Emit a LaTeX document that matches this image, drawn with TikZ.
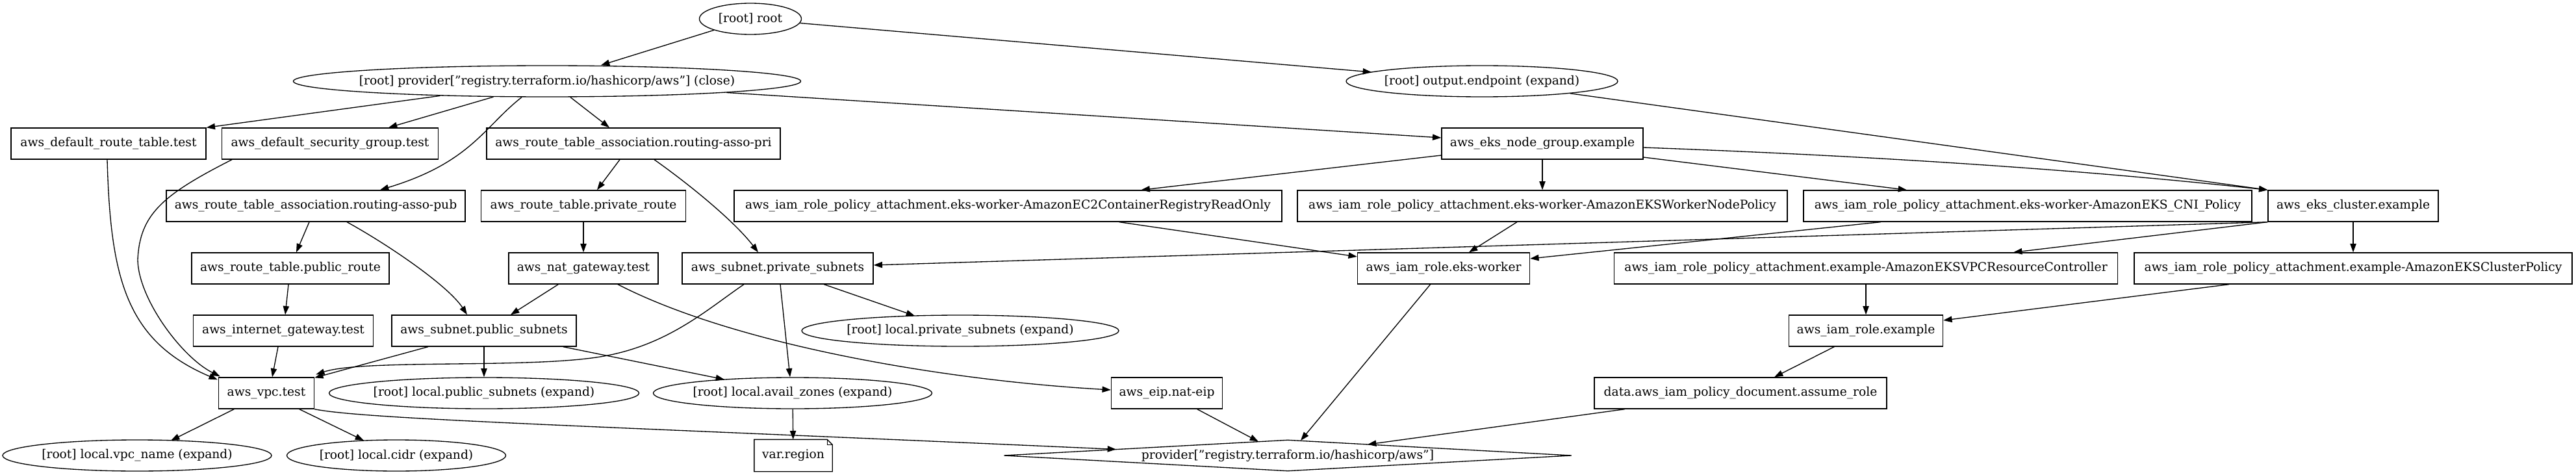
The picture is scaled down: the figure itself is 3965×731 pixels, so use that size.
\documentclass[tikz,border=0pt]{standalone}
\usepackage{fontspec}
\setmainfont{DejaVu Serif}
\usetikzlibrary{shapes.geometric,arrows.meta}
\newcommand{\nt}[1]{\makebox[0pt]{#1}}
\tikzset{
  base/.style={inner sep=0pt, minimum height=36pt, line width=1pt, font=\fontsize{14pt}{16pt}\selectfont},
  box/.style={base, draw, rectangle},
  ell/.style={base, draw, ellipse},
  dia/.style={base, draw, diamond},
  edge/.style={line width=1pt, -{Triangle[length=10pt,width=7pt]}},
}
\begin{document}
\begin{tikzpicture}[x=0.75pt,y=-0.75pt]
\useasboundingbox (0,0) rectangle (3965,731);
% row 0/1
\node[ell, minimum width=117.75pt] (root) at (1155,29) {\nt{[root] root}};
\node[ell, minimum width=585.75pt] (close) at (842,125) {\nt{[root] provider["registry.terraform.io/hashicorp/aws"] (close)}};
\node[ell, minimum width=313.5pt] (endpoint) at (2281,125) {\nt{[root] output.endpoint (expand)}};
% row 2
\node[box, minimum width=225pt] (drt) at (167,221) {\nt{aws\_default\_route\_table.test}};
\node[box, minimum width=249.75pt] (dsg) at (508,221) {\nt{aws\_default\_security\_group.test}};
\node[box, minimum width=339pt] (assopri) at (975,221) {\nt{aws\_route\_table\_association.routing-asso-pri}};
\node[box, minimum width=232.5pt] (nodegroup) at (2374,221) {\nt{aws\_eks\_node\_group.example}};
% row 3
\node[box, minimum width=345pt] (assopub) at (486,317) {\nt{aws\_route\_table\_association.routing-asso-pub}};
\node[box, minimum width=236.25pt] (privroute) at (898,317) {\nt{aws\_route\_table.private\_route}};
\node[box, minimum width=632.25pt] (ec2crro) at (1551.5,317) {\nt{aws\_iam\_role\_policy\_attachment.eks-worker-AmazonEC2ContainerRegistryReadOnly}};
\node[box, minimum width=565.5pt] (workernode) at (2374,317) {\nt{aws\_iam\_role\_policy\_attachment.eks-worker-AmazonEKSWorkerNodePolicy}};
\node[box, minimum width=517.5pt] (cni) at (3121,317) {\nt{aws\_iam\_role\_policy\_attachment.eks-worker-AmazonEKS\_CNI\_Policy}};
\node[box, minimum width=196.5pt] (ekscluster) at (3622,317) {\nt{aws\_eks\_cluster.example}};
% row 4
\node[box, minimum width=228pt] (pubroute) at (447,413) {\nt{aws\_route\_table.public\_route}};
\node[box, minimum width=172.5pt] (natgw) at (898,413) {\nt{aws\_nat\_gateway.test}};
\node[box, minimum width=220.5pt] (privsub) at (1197,413) {\nt{aws\_subnet.private\_subnets}};
\node[box, minimum width=198.75pt] (eksworker) at (2222,413) {\nt{aws\_iam\_role.eks-worker}};
\node[box, minimum width=581.25pt] (vpcrc) at (2872,413) {\nt{aws\_iam\_role\_policy\_attachment.example-AmazonEKSVPCResourceController}};
\node[box, minimum width=505.5pt] (clusterpol) at (3622,413) {\nt{aws\_iam\_role\_policy\_attachment.example-AmazonEKSClusterPolicy}};
% row 5
\node[box, minimum width=207.75pt] (igw) at (436,509) {\nt{aws\_internet\_gateway.test}};
\node[box, minimum width=213pt] (pubsub) at (745,509) {\nt{aws\_subnet.public\_subnets}};
\node[ell, minimum width=366pt] (lprivsub) at (1478,509) {\nt{[root] local.private\_subnets (expand)}};
\node[box, minimum width=177.75pt] (iamex) at (2872,509) {\nt{aws\_iam\_role.example}};
% row 6
\node[box, minimum width=110.25pt] (vpc) at (410,605) {\nt{aws\_vpc.test}};
\node[ell, minimum width=357.75pt] (lpubsub) at (745,605) {\nt{[root] local.public\_subnets (expand)}};
\node[ell, minimum width=321.75pt] (az) at (1220,605) {\nt{[root] local.avail\_zones (expand)}};
\node[box, minimum width=128.25pt] (eip) at (1796,605) {\nt{aws\_eip.nat-eip}};
\node[box, minimum width=337.5pt] (assume) at (2679,605) {\nt{data.aws\_iam\_policy\_document.assume\_role}};
% row 7
\node[ell, minimum width=310.5pt] (vpcname) at (211,701) {\nt{[root] local.vpc\_name (expand)}};
\node[ell, minimum width=252.75pt] (cidr) at (610,701) {\nt{[root] local.cidr (expand)}};
\node[base, rectangle, minimum width=89.25pt] (region) at (1221,701) {\nt{var.region}};
\draw[line width=1pt, line join=miter] (region.north west) -- ([shift={(-8,0)}]region.north east) -- ([shift={(0,8)}]region.north east) -- (region.south east) -- (region.south west) -- cycle;
\draw[line width=0.8pt] ([shift={(-8,0)}]region.north east) -- ([shift={(-8,8)}]region.north east) -- ([shift={(0,8)}]region.north east);
\node[dia, minimum width=655.5pt] (provider) at (1982,701) {\nt{provider["registry.terraform.io/hashicorp/aws"]}};
% edges
\draw[edge] (root) -- ([shift={(83,0)}]close.north);
\draw[edge] (root) -- ([shift={(-170,-14)}]endpoint.center);
\draw[edge] (close) -- (drt.north east);
\draw[edge] (close) -- ([shift={(90,0)}]dsg.north);
\draw[edge] ([shift={(-39,0)}]close.south) .. controls (745,195) and (725,250) .. ([shift={(99,0)}]assopub.north);
\draw[edge] ([shift={(36,0)}]close.south) -- ([shift={(-37,0)}]assopri.north);
\draw[edge] (close) -- ([shift={(0,-9)}]nodegroup.west);
\draw[edge] (endpoint) -- (ekscluster.north west);
\draw[edge] ([shift={(0,18)}]nodegroup.west) -- ([shift={(205,0)}]ec2crro.north);
\draw[edge] (nodegroup) -- (workernode);
\draw[edge] ([shift={(0,21)}]nodegroup.east) -- ([shift={(-186,0)}]cni.north);
\draw[edge] ([shift={(0,6)}]nodegroup.east) .. controls (2800,237) and (3150,255) .. (ekscluster.north west);
\draw[edge] ([shift={(-21,0)}]assopri.south) -- ([shift={(21,0)}]privroute.north);
\draw[edge] ([shift={(32,0)}]assopri.south) .. controls (1060,283) and (1130,340) .. ([shift={(-30,0)}]privsub.north);
\draw[edge] ([shift={(-10,0)}]assopub.south) -- ([shift={(9,0)}]pubroute.north);
\draw[edge] ([shift={(48,0)}]assopub.south) .. controls (600,378) and (690,440) .. ([shift={(-26,0)}]pubsub.north);
\draw[edge] (privroute) -- (natgw);
\draw[edge] ([shift={(-2,0)}]drt.south) .. controls (170,430) and (195,525) .. ([shift={(-1,4)}]vpc.north west);
\draw[edge] ([shift={(-151,0)}]dsg.south) .. controls (250,300) and (215,330) .. (212,400) .. controls (213,460) and (280,550) .. ([shift={(3,-1)}]vpc.north west);
\draw[edge] ([shift={(-3,0)}]pubroute.south) -- ([shift={(3,0)}]igw.north);
\draw[edge] ([shift={(-8,0)}]igw.south) -- ([shift={(9,0)}]vpc.north);
\draw[edge] ([shift={(-86,0)}]pubsub.south) -- ([shift={(0,1)}]vpc.north east);
\draw[edge] (pubsub) -- (lpubsub);
\draw[edge] (pubsub) -- ([shift={(-105,-21)}]az.center);
\draw[edge] (natgw) -- ([shift={(41,0)}]pubsub.north);
\draw[edge] ([shift={(53,0)}]natgw.south) .. controls (1130,530) and (1450,585) .. ([shift={(0,-5)}]eip.west);
\draw[edge] ([shift={(-52,0)}]privsub.south) .. controls (1090,475) and (1030,530) .. (930,548) .. controls (820,568) and (560,552) .. ([shift={(2,-4)}]vpc.north east);
\draw[edge] ([shift={(4,0)}]privsub.south) -- ([shift={(-4,0)}]az.north);
\draw[edge] (privsub) -- ([shift={(-70,-23)}]lprivsub.center);
\draw[edge] (ekscluster.south west) -- ([shift={(0,-5)}]privsub.east);
\draw[edge] (ekscluster.south west) -- ([shift={(227,0)}]vpcrc.north);
\draw[edge] (ekscluster) -- (clusterpol);
\draw[edge] ([shift={(171,0)}]ec2crro.south) -- ([shift={(0,-18)}]eksworker.west);
\draw[edge] ([shift={(-39,0)}]workernode.south) -- ([shift={(39,0)}]eksworker.north);
\draw[edge] ([shift={(-226,0)}]cni.south) -- ([shift={(0,-15)}]eksworker.east);
\draw[edge] (vpcrc) -- (iamex);
\draw[edge] ([shift={(-191,0)}]clusterpol.south) -- ([shift={(0,-16)}]iamex.east);
\draw[edge] (iamex) -- ([shift={(52,0)}]assume.north);
\draw[edge] ([shift={(-178,0)}]assume.south) -- ([shift={(123,-17)}]provider.center);
\draw[edge] (eip) -- ([shift={(-45,-21.5)}]provider.center);
\draw[edge] (eksworker) -- ([shift={(20,-23)}]provider.center);
\draw[edge] (vpc.south east) .. controls (560,645) and (900,655) .. ([shift={(-264,-9.5)}]provider.center);
\draw[edge] (az) -- (region);
\draw[edge] (vpc) -- ([shift={(52,-23)}]vpcname.center);
\draw[edge] (vpc) -- ([shift={(-50,-23)}]cidr.center);
\end{tikzpicture}
\end{document}
